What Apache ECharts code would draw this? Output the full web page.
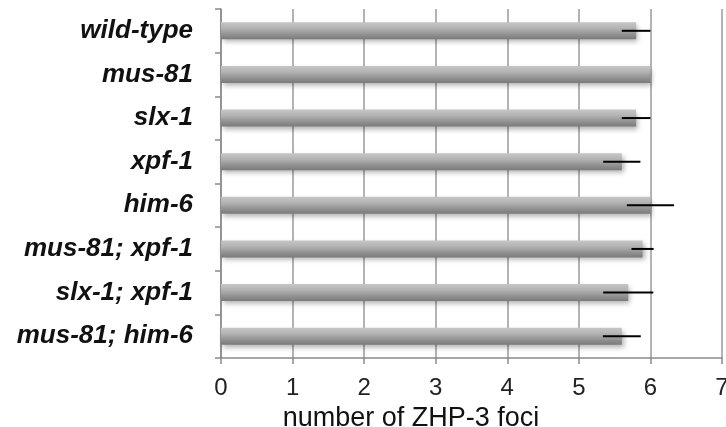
<!DOCTYPE html>
<html>
<head>
<meta charset="utf-8">
<script src="https://cdn.jsdelivr.net/npm/echarts@6/dist/echarts.min.js"></script>
<style>html,body{margin:0;padding:0;background:#fff}#c{width:726px;height:427px}</style>
</head>
<body>
<div id="c"></div>
<script>
var categories = ['wild-type', 'mus-81', 'slx-1', 'xpf-1', 'him-6', 'mus-81; xpf-1', 'slx-1; xpf-1', 'mus-81; him-6'];
var meanFoci = [5.8, 6.0, 5.8, 5.6, 6.0, 5.89, 5.69, 5.6];
var errorFoci = [0.2, 0, 0.2, 0.26, 0.33, 0.155, 0.35, 0.265];
var xTicks = [0, 1, 2, 3, 4, 5, 6, 7];
var xAxisTitle = 'number of ZHP-3 foci';

var font = "'Liberation Sans', Arial, sans-serif";
var chart = echarts.init(document.getElementById('c'));
var errData = categories.map(function (c, i) { return [i, meanFoci[i] - errorFoci[i], meanFoci[i] + errorFoci[i]]; });

chart.setOption({
  animation: false,
  grid: { left: 221, right: 4, top: 9, bottom: 69, containLabel: false, outerBoundsMode: 'none' },
  xAxis: {
    type: 'value', min: xTicks[0], max: xTicks[xTicks.length - 1], interval: 1,
    axisLine: { show: true, lineStyle: { color: '#8a8a8a', width: 1.5 } },
    axisTick: { show: true, length: 6, lineStyle: { color: '#8a8a8a', width: 1.5 } },
    splitLine: { show: true, lineStyle: { color: '#9a9a9a', width: 1.5 } },
    axisLabel: { color: '#222', fontSize: 24, fontFamily: font, margin: 18 },
    name: xAxisTitle, nameLocation: 'middle', nameGap: 38,
    nameTextStyle: { color: '#111', fontSize: 27, fontFamily: font, padding: [0, 121, 0, 0] }
  },
  yAxis: {
    type: 'category', data: categories, inverse: true,
    axisLine: { show: true, lineStyle: { color: '#8a8a8a', width: 1.5 } },
    axisTick: { show: true, length: 6, lineStyle: { color: '#8a8a8a', width: 1.5 } },
    splitLine: { show: false },
    axisLabel: { color: '#111', fontSize: 26, fontWeight: 'bold', fontStyle: 'italic', fontFamily: font, margin: 28 }
  },
  series: [
    {
      type: 'bar', data: meanFoci, barWidth: 17, z: 2,
      itemStyle: {
        color: new echarts.graphic.LinearGradient(0, 0, 0, 1, [
          { offset: 0, color: '#c6c6c6' },
          { offset: 0.35, color: '#b3b3b3' },
          { offset: 0.75, color: '#8e8e8e' },
          { offset: 1, color: '#7a7a7a' }
        ]),
        shadowBlur: 5, shadowColor: 'rgba(0,0,0,0.3)', shadowOffsetX: 2, shadowOffsetY: 3
      }
    },
    {
      type: 'custom', z: 5, data: errData,
      renderItem: function (params, api) {
        var i = api.value(0), lo = api.value(1), hi = api.value(2);
        if (hi - lo <= 0) return null;
        var p1 = api.coord([lo, i]), p2 = api.coord([hi, i]);
        return { type: 'line', shape: { x1: p1[0], y1: p1[1], x2: p2[0], y2: p2[1] }, style: { stroke: '#000', lineWidth: 2 } };
      },
      encode: { x: [1, 2], y: 0 }
    }
  ]
});
</script>
</body>
</html>
